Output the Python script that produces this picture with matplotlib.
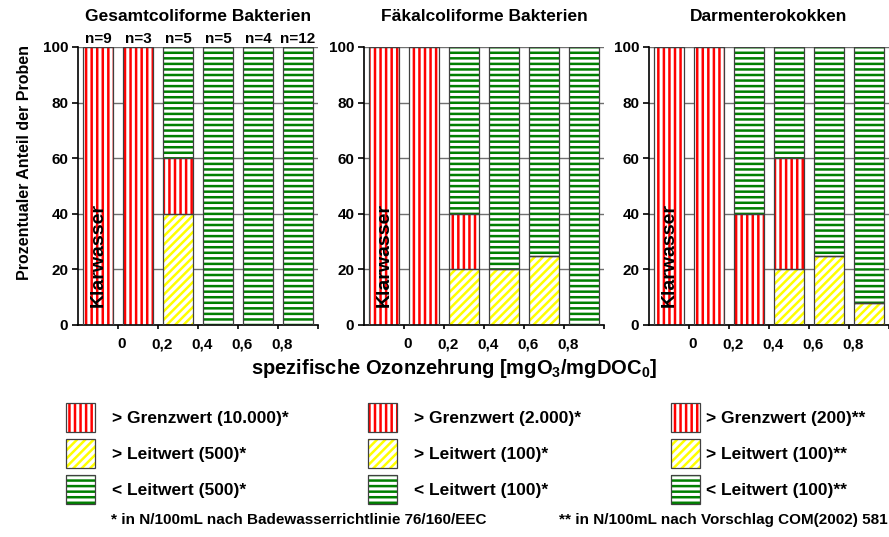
import numpy as np
import matplotlib
matplotlib.use('Agg')
import matplotlib.pyplot as plt
from matplotlib.patches import Patch

plt.rcParams['font.family'] = ['Liberation Sans', 'DejaVu Sans']
plt.rcParams['font.weight'] = 'bold'
plt.rcParams['mathtext.fontset'] = 'custom'
plt.rcParams['mathtext.rm'] = 'Liberation Sans:bold'
plt.rcParams['mathtext.it'] = 'Liberation Sans:bold'
plt.rcParams['mathtext.bf'] = 'Liberation Sans:bold'
plt.rcParams['hatch.linewidth'] = 1.8

# daten
titles = ["Gesamtcoliforme Bakterien", "Fäkalcoliforme Bakterien", "Darmenterokokken"]
x_ticklabels = ["0", "0,2", "0,4", "0,6", "0,8"]
n_labels = ["n=9", "n=3", "n=5", "n=5", "n=4", "n=12"]

gesamt_gelb = [0, 0, 40, 0, 0, 0]
gesamt_rot = [100, 100, 20, 0, 0, 0]
gesamt_gruen = [0, 0, 40, 100, 100, 100]

faekal_gelb = [0, 0, 20, 20, 25, 0]
faekal_rot = [100, 100, 20, 0, 0, 0]
faekal_gruen = [0, 0, 60, 80, 75, 100]

darm_gelb = [0, 0, 0, 20, 25, 8]
darm_rot = [100, 100, 40, 40, 0, 0]
darm_gruen = [0, 0, 60, 40, 75, 92]

legend_labels = [
    ["> Grenzwert (10.000)*", "> Leitwert (500)*", "< Leitwert (500)*"],
    ["> Grenzwert (2.000)*", "> Leitwert (100)*", "< Leitwert (100)*"],
    ["> Grenzwert (200)**", "> Leitwert (100)**", "< Leitwert (100)**"],
]
footnote1 = "* in N/100mL nach Badewasserrichtlinie 76/160/EEC"
footnote2 = "** in N/100mL nach Vorschlag COM(2002) 581"

red = '#ff0000'
yellow = '#ffff00'
green = '#008000'
edge = '#404040'

W, H = 889, 537
fig = plt.figure(figsize=(W / 100, H / 100), dpi=100)

panel_data = [(gesamt_gelb, gesamt_rot, gesamt_gruen),
              (faekal_gelb, faekal_rot, faekal_gruen),
              (darm_gelb, darm_rot, darm_gruen)]
panel_left = [78, 364, 649]


def hatched_bar(ax, x, h, b, color, hatch):
    ax.bar(x, h, 0.75, bottom=b, color='white', edgecolor=color, hatch=hatch, linewidth=0, zorder=2)
    ax.bar(x, h, 0.75, bottom=b, fill=False, edgecolor=edge, linewidth=0.9, zorder=3)


for p in range(3):
    gelb, rot, gruen = panel_data[p]
    ax = fig.add_axes([panel_left[p] / W, (H - 325) / H, 240 / W, 278 / H])
    x = np.arange(len(gelb))
    gelb = np.array(gelb)
    rot = np.array(rot)
    gruen = np.array(gruen)
    hatched_bar(ax, x, gelb, 0, yellow, '////')
    hatched_bar(ax, x, rot, gelb, red, '|||')
    hatched_bar(ax, x, gruen, gelb + rot, green, '---')

    ax.set_xlim(-0.5, 5.5)
    ax.set_ylim(0, 100)
    ax.set_yticks([0, 20, 40, 60, 80, 100])
    # tickstriche an den grenzen, beschriftung etwas nach rechts versetzt
    ax.set_xticks(np.arange(0.5, 6.0, 1.0), minor=True)
    ax.set_xticks(np.arange(0.6, 5.0, 1.0))
    ax.set_xticklabels(x_ticklabels)
    ax.yaxis.grid(True, color='#707070', linewidth=1.0)
    ax.set_axisbelow(True)
    for s in ['top', 'right']:
        ax.spines[s].set_visible(False)
    ax.spines['left'].set_linewidth(1.2)
    ax.spines['bottom'].set_linewidth(1.2)
    ax.tick_params(axis='y', direction='out', length=4, width=1.2, pad=3, labelsize=11)
    ax.tick_params(axis='x', which='major', length=0, pad=9, labelsize=11)
    ax.tick_params(axis='x', which='minor', direction='out', length=3, width=1.2)
    ax.set_title(titles[p], fontsize=12.5, fontweight='bold', pad=19)
    ax.text(0, 6.5, "Klarwasser", rotation=90, ha='center', va='bottom',
            fontsize=14, fontweight='bold', zorder=5)
    if p == 0:
        for i in range(len(n_labels)):
            ax.text(i, 100.5, n_labels[i], ha='center', va='bottom', fontsize=11,
                    fontweight='bold', clip_on=False)

fig.text(25 / W, 1 - 163 / H, "Prozentualer Anteil der Proben", rotation=90,
         ha='center', va='center', fontsize=11.5, fontweight='bold')
fig.text(454 / W, 1 - 368 / H, "spezifische Ozonzehrung [mgO$_3$/mgDOC$_0$]",
         ha='center', va='center', fontsize=14.5, fontweight='bold')

# legende: drei spalten
leg_x = [66, 368, 671]
leg_pad = [1.0, 1.0, 0.35]
styles = [(red, '|||'), (yellow, '////'), (green, '---')]
for c in range(3):
    handles = []
    for col, hat in styles:
        handles.append((Patch(facecolor='white', edgecolor=col, hatch=hat, linewidth=0),
                        Patch(fill=False, edgecolor=edge, linewidth=0.9)))
    fig.legend(handles, legend_labels[c], loc='upper left',
               bbox_to_anchor=(leg_x[c] / W, 1 - 403 / H), frameon=False,
               fontsize=12.5, handlelength=1.65, handleheight=2.19,
               labelspacing=0.4, handletextpad=leg_pad[c], borderpad=0,
               borderaxespad=0)

fig.text(111 / W, 1 - 520 / H, footnote1, ha='left', va='center', fontsize=11, fontweight='bold')
fig.text(559 / W, 1 - 520 / H, footnote2, ha='left', va='center', fontsize=11, fontweight='bold')

fig.savefig('out.png', dpi=100)
